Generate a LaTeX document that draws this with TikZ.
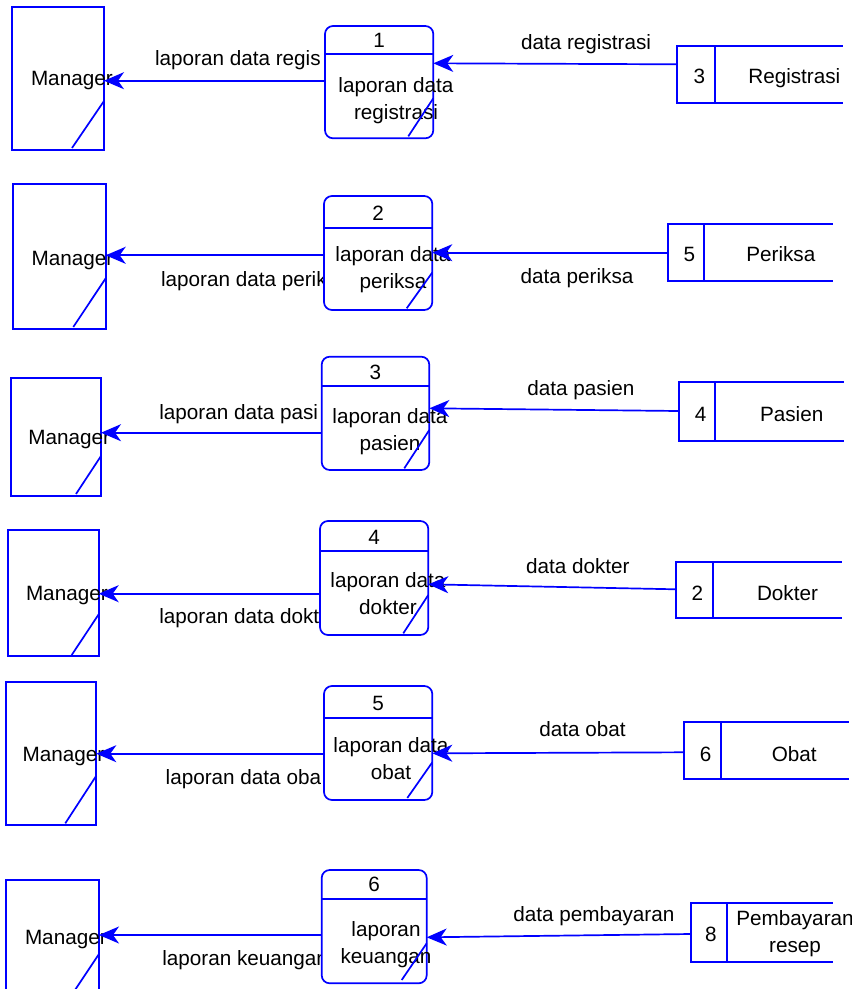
\documentclass[tikz,border=0pt]{standalone}
\usepackage{fontspec}
\setmainfont{Liberation Sans}
\usepackage{tikz}
\usetikzlibrary{arrows.meta}
\tikzstyle{entity} = [rectangle, draw=blue, line width=1.7pt, outer sep=0pt, inner sep=0pt, anchor=north west]
\tikzstyle{process} = [rectangle, rounded corners=8pt, draw=blue, fill=white, line width=1.7pt, outer sep=0pt, inner sep=0pt, anchor=north west]
\tikzstyle{storeid} = [rectangle, draw=blue, line width=1.7pt, outer sep=0pt, inner sep=0pt, anchor=north west]
\tikzstyle{txt} = [inner sep=0pt, outer sep=0pt, anchor=base]
\tikzstyle{txtl} = [inner sep=0pt, outer sep=0pt, anchor=base west]
\tikzstyle{ptext} = [inner sep=0pt, outer sep=0pt, align=center, anchor=north]
\tikzstyle{bline} = [draw=blue, line width=1.7pt]
\tikzstyle{flow} = [draw=blue, line width=1.7pt, -{Stealth[length=20pt, width=17pt, inset=6pt]}]

\begin{document}
\begin{tikzpicture}[x=1pt, y=-1pt, font=\fontsize{20.7}{27}\selectfont]
\useasboundingbox (0,0) rectangle (860,989);
\clip (0,0) rectangle (851,989);

% 1
\node[entity, minimum width=92.3pt, minimum height=143.3pt] (m1) at (11.7,6.7) {};
\node[txtl] (mt1) at (31,85.7) {Manager};
\draw[bline] ([yshift=49pt]m1.south east) -- ([xshift=-32pt,yshift=2pt]m1.south east);
\node[txtl] (l1) at (155,65.7) {laporan data regis};
\node[txtl] (dl1) at (521,49.5) {data registrasi};
\node[process, minimum width=108.3pt, minimum height=112.3pt] (p1) at (325,26) {};
\draw[bline] ([yshift=-28.3pt]p1.north west) -- ([yshift=-28.3pt]p1.north east);
\node[txt] (n1) at (379.2,47.7) {1};
\node[ptext] (pt1) at (396,77.4) {laporan data\\registrasi};
\draw[bline] ([yshift=40pt]p1.south east) -- ([xshift=-25pt,yshift=2pt]p1.south east);
\node[storeid, minimum width=37.7pt, minimum height=57.3pt] (d1) at (677.3,46) {};
\node[txt] (dn1) at (699.5,83.3) {3};
\node[txtl] (s1) at (748.3,83.3) {Registrasi};
\draw[bline] (d1.north east) -- ++(127.7,0);
\draw[bline] (d1.south east) -- ++(127.7,0);
\draw[flow] (d1.west |- 0,64.3) -- (p1.east |- 0,63.3);
\draw[flow] (p1.west |- 0,80.7) -- (m1.east |- 0,80.7);

% 2
\node[entity, minimum width=93pt, minimum height=145pt] (m2) at (12.7,184) {};
\node[txtl] (mt2) at (31.7,265.7) {Manager};
\draw[bline] ([yshift=50.7pt]m2.south east) -- ([xshift=-32.4pt,yshift=2pt]m2.south east);
\node[txtl] (l2) at (161,286) {laporan data perik};
\node[txtl] (dl2) at (520.7,283.3) {data periksa};
\node[process, minimum width=108.3pt, minimum height=114pt] (p2) at (324,196) {};
\draw[bline] ([yshift=-31.7pt]p2.north west) -- ([yshift=-31.7pt]p2.north east);
\node[txt] (n2) at (378.2,220.7) {2};
\node[ptext] (pt2) at (393,246.6) {laporan data\\periksa};
\draw[bline] ([yshift=37.5pt]p2.south east) -- ([xshift=-25.6pt,yshift=1.7pt]p2.south east);
\node[storeid, minimum width=35.7pt, minimum height=56.7pt] (d2) at (668.3,224) {};
\node[txt] (dn2) at (689.3,261.7) {5};
\node[txt] (s2) at (780.8,261.7) {Periksa};
\draw[bline] (d2.north east) -- ++(129.3,0);
\draw[bline] (d2.south east) -- ++(129.3,0);
\draw[flow] (d2.west |- 0,252.7) -- (p2.east |- 0,252.7);
\draw[flow] (p2.west |- 0,255.3) -- (m2.east |- 0,255.3);

% 3
\node[entity, minimum width=90.3pt, minimum height=117.4pt] (m3) at (10.7,378.3) {};
\node[txtl] (mt3) at (28.3,444.3) {Manager};
\draw[bline] ([yshift=39.7pt]m3.south east) -- ([xshift=-25pt,yshift=1.7pt]m3.south east);
\node[txtl] (l3) at (159.3,419) {laporan data pasi};
\node[txtl] (dl3) at (527.3,395) {data pasien};
\node[process, minimum width=107.6pt, minimum height=113.3pt] (p3) at (321.7,356.7) {};
\draw[bline] ([yshift=-29.3pt]p3.north west) -- ([yshift=-29.3pt]p3.north east);
\node[txt] (n3) at (375.5,379.3) {3};
\node[ptext] (pt3) at (390,408.2) {laporan data\\pasien};
\draw[bline] ([yshift=40pt]p3.south east) -- ([xshift=-25pt,yshift=1.7pt]p3.south east);
\node[storeid, minimum width=36.3pt, minimum height=58.4pt] (d3) at (678.7,382.3) {};
\node[txt] (dn3) at (700.7,421) {4};
\node[txt] (s3) at (791.7,421) {Pasien};
\draw[bline] (d3.north east) -- ++(129,0);
\draw[bline] (d3.south east) -- ++(129,0);
\draw[flow] (d3.west |- 0,411) -- (p3.east |- 0,408.3);
\draw[flow] (p3.west |- 0,432.7) -- (m3.east |- 0,432.7);

% 4
\node[entity, minimum width=91pt, minimum height=126pt] (m4) at (7.7,530) {};
\node[txtl] (mt4) at (26,600) {Manager};
\draw[bline] ([yshift=41.7pt]m4.south east) -- ([xshift=-27pt,yshift=1pt]m4.south east);
\node[txtl] (l4) at (159.3,623.3) {laporan data dokt};
\node[txtl] (dl4) at (526,573.3) {data dokter};
\node[process, minimum width=108.3pt, minimum height=114pt] (p4) at (320,521) {};
\draw[bline] ([yshift=-29.7pt]p4.north west) -- ([yshift=-29.7pt]p4.north east);
\node[txt] (n4) at (374.2,544) {4};
\node[ptext] (pt4) at (388,572.6) {laporan data\\dokter};
\draw[bline] ([yshift=40pt]p4.south east) -- ([xshift=-25pt,yshift=1.7pt]p4.south east);
\node[storeid, minimum width=37.3pt, minimum height=56.6pt] (d4) at (676,561.7) {};
\node[txt] (dn4) at (697.3,600) {2};
\node[txt] (s4) at (787.5,600) {Dokter};
\draw[bline] (d4.north east) -- ++(128.4,0);
\draw[bline] (d4.south east) -- ++(128.4,0);
\draw[flow] (d4.west |- 0,589.3) -- (p4.east |- 0,584.3);
\draw[flow] (p4.west |- 0,593.7) -- (m4.east |- 0,593.7);

% 5
\node[entity, minimum width=90.6pt, minimum height=143.3pt] (m5) at (5.7,681.7) {};
\node[txtl] (mt5) at (22.7,761) {Manager};
\draw[bline] ([yshift=49.3pt]m5.south east) -- ([xshift=-31pt,yshift=1.7pt]m5.south east);
\node[txtl] (l5) at (165.7,784.3) {laporan data oba};
\node[txtl] (dl5) at (539.3,736.7) {data obat};
\node[process, minimum width=108.3pt, minimum height=114pt] (p5) at (324,686) {};
\draw[bline] ([yshift=-31.7pt]p5.north west) -- ([yshift=-31.7pt]p5.north east);
\node[txt] (n5) at (378.2,710) {5};
\node[ptext] (pt5) at (391,737.2) {laporan data\\obat};
\draw[bline] ([yshift=37.7pt]p5.south east) -- ([xshift=-25pt,yshift=2pt]p5.south east);
\node[storeid, minimum width=36.7pt, minimum height=56.7pt] (d5) at (684,722.3) {};
\node[txt] (dn5) at (705.7,761.7) {6};
\node[txt] (s5) at (794.2,761.7) {Obat};
\draw[bline] (d5.north east) -- ++(128.6,0);
\draw[bline] (d5.south east) -- ++(128.6,0);
\draw[flow] (d5.west |- 0,752.3) -- (p5.east |- 0,753.3);
\draw[flow] (p5.west |- 0,753.7) -- (m5.east |- 0,753.7);

% 6
\node[entity, minimum width=93pt, minimum height=112pt] (m6) at (6,880) {};
\node[txtl] (mt6) at (25,944) {Manager};
\draw[bline] ([yshift=38pt]m6.south east) -- ([xshift=-24pt,yshift=2pt]m6.south east);
\node[txtl] (l6) at (162.3,965) {laporan keuangan};
\node[txtl] (dl6) at (513.3,921) {data pembayaran};
\node[process, minimum width=105pt, minimum height=113.3pt] (p6) at (321.7,870) {};
\draw[bline] ([yshift=-29.3pt]p6.north west) -- ([yshift=-29.3pt]p6.north east);
\node[txt] (n6) at (374.2,891.7) {6};
\node[ptext] (pt6) at (386,921.6) {laporan\\keuangan};
\draw[bline] ([yshift=40pt]p6.south east) -- ([xshift=-25pt,yshift=3.3pt]p6.south east);
\node[storeid, minimum width=36pt, minimum height=59pt] (d6) at (690.7,903.3) {};
\node[txt] (dn6) at (711,941.7) {8};
\node[ptext] (s6) at (795,910.6) {Pembayaran\\resep};
\draw[bline] (d6.north east) -- ++(106.6,0);
\draw[bline] (d6.south east) -- ++(106.6,0);
\draw[flow] (d6.west |- 0,934) -- (p6.east |- 0,937.3);
\draw[flow] (p6.west |- 0,935) -- (m6.east |- 0,935);
\end{tikzpicture}
\end{document}
